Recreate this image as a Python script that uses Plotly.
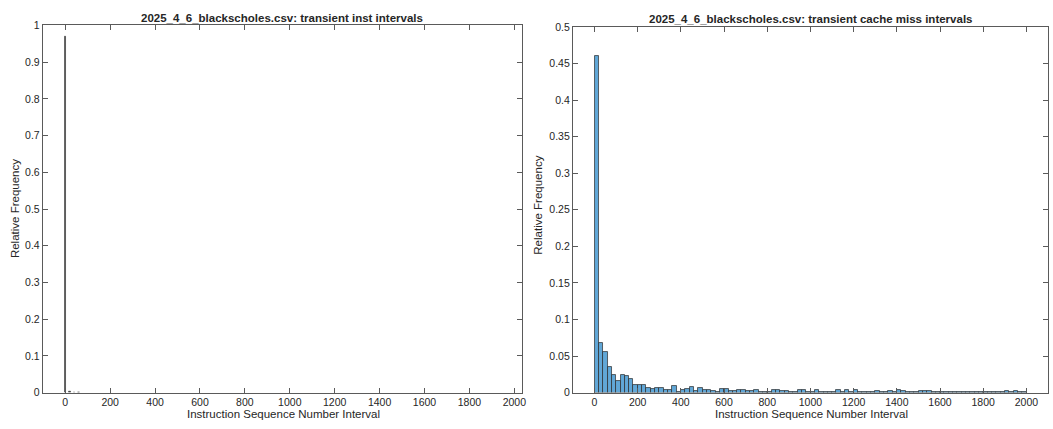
import plotly.graph_objects as go

# ---------------- data ----------------
title_left = "2025_4_6_blackscholes.csv: transient inst intervals"
title_right = "2025_4_6_blackscholes.csv: transient cache miss intervals"
x_label = "Instruction Sequence Number Interval"
y_label = "Relative Frequency"

# left histogram (almost everything in the first bin)
left_centers = [0, 20, 40, 60]
left_freq = [0.971, 0.002, 0.001, 0.001]
left_bin_width = 7

# right histogram, bin width 20 from 0 to 2000
bin_width = 20
right_freq = [
    0.461, 0.068, 0.055, 0.035, 0.024, 0.016, 0.024, 0.023, 0.019, 0.010,
    0.011, 0.011, 0.007, 0.005, 0.007, 0.0066, 0.004, 0.0042, 0.009, 0.0015,
    0.0035, 0.0057, 0.0072, 0.0025, 0.0063, 0.0042, 0.0042, 0.0025, 0.0012, 0.0046,
    0.0046, 0.0018, 0.0027, 0.0032, 0.0032, 0.0018, 0.0027, 0.0035, 0.0004, 0.0013,
    0.0013, 0.0032, 0.0032, 0.002, 0.002, 0.001, 0.0013, 0.0042, 0.0042, 0.001,
    0.0004, 0.0032, 0.0013, 0.0006, 0.0004, 0.0008, 0.0042, 0.0015, 0.0038, 0.0015,
    0.0042, 0.0015, 0.0006, 0.0004, 0.0008, 0.0028, 0.0015, 0.0013, 0.0018, 0.0006,
    0.0035, 0.0025, 0.0012, 0.0006, 0.0004, 0.0018, 0.0018, 0.0018, 0.0008, 0.0013,
    0.0013, 0.0008, 0.0004, 0.0006, 0.0004, 0.0006, 0.0004, 0.0013, 0.0015, 0.0006,
    0.0004, 0.0004, 0.0004, 0.0004, 0.0004, 0.0018, 0.0008, 0.0028, 0.0008, 0.0006,
]
right_centers = [bin_width * i + bin_width / 2 for i in range(len(right_freq))]

x_tick_vals = [0, 200, 400, 600, 800, 1000, 1200, 1400, 1600, 1800, 2000]
x_tick_text = ["0", "200", "400", "600", "800", "1000", "1200", "1400", "1600", "1800", "2000"]
left_y_vals = [0, 0.1, 0.2, 0.3, 0.4, 0.5, 0.6, 0.7, 0.8, 0.9, 1.0]
left_y_text = ["0", "0.1", "0.2", "0.3", "0.4", "0.5", "0.6", "0.7", "0.8", "0.9", "1"]
right_y_vals = [0, 0.05, 0.1, 0.15, 0.2, 0.25, 0.3, 0.35, 0.4, 0.45, 0.5]
right_y_text = ["0", "0.05", "0.1", "0.15", "0.2", "0.25", "0.3", "0.35", "0.4", "0.45", "0.5"]

# ---------------- figure ----------------
W, H = 1053, 429
FONT = "Liberation Sans, Arial, Helvetica, sans-serif"
TXT = "#262626"
AX = "#5a5a5a"

fig = go.Figure()
fig.add_trace(go.Bar(
    x=left_centers, y=left_freq, width=left_bin_width,
    marker=dict(color="#3a3a3a", line=dict(color="#262626", width=0.5)),
    xaxis="x", yaxis="y", showlegend=False,
))
fig.add_trace(go.Bar(
    x=right_centers, y=right_freq, width=bin_width,
    marker=dict(color="rgb(97,167,215)", line=dict(color="#2a2a2a", width=0.7)),
    xaxis="x2", yaxis="y2", showlegend=False,
))

def px_x(p):
    return p / W

def px_y(p):
    return 1 - p / H

common = dict(
    showgrid=False, zeroline=False, showline=True, linecolor=AX, linewidth=1,
    mirror="ticks", ticks="inside", ticklen=5, tickcolor=AX, tickwidth=1,
    tickfont=dict(family=FONT, size=10.5, color=TXT),
)

fig.update_layout(
    width=W, height=H,
    margin=dict(l=0, r=0, t=0, b=0, pad=0),
    paper_bgcolor="white", plot_bgcolor="white",
    bargap=0,
    xaxis=dict(domain=[px_x(43), px_x(524)], range=[-100, 2032],
               tickvals=x_tick_vals, ticktext=x_tick_text, anchor="y", **common),
    yaxis=dict(domain=[px_y(397.7), px_y(20)], range=[0, 1],
               tickvals=left_y_vals, ticktext=left_y_text, anchor="x", **common),
    xaxis2=dict(domain=[px_x(575.6), 1.0], range=[-100, 2100],
                tickvals=x_tick_vals, ticktext=x_tick_text, anchor="y2", **common),
    yaxis2=dict(domain=[px_y(397.7), px_y(21.5)], range=[0, 0.5],
                tickvals=right_y_vals, ticktext=right_y_text, anchor="x2", **common),
)

annos = [
    dict(text="<b>%s</b>" % title_left, x=px_x(283.5), y=px_y(12.5), font=dict(size=11.5)),
    dict(text="<b>%s</b>" % title_right, x=px_x(814), y=px_y(13.5), font=dict(size=11.5)),
    dict(text=x_label, x=px_x(285), y=px_y(419.5), font=dict(size=11.5)),
    dict(text=x_label, x=px_x(815), y=px_y(419.5), font=dict(size=11.5)),
    dict(text=y_label, x=px_x(15), y=px_y(208), font=dict(size=11.5), textangle=-90),
    dict(text=y_label, x=px_x(541), y=px_y(205), font=dict(size=11.5), textangle=-90),
]
for a in annos:
    a.update(xref="paper", yref="paper", showarrow=False, borderpad=0,
             xanchor="center", yanchor="middle")
    a["font"].update(family=FONT, color=TXT)
    fig.add_annotation(**a)

fig.write_html("out.html")
